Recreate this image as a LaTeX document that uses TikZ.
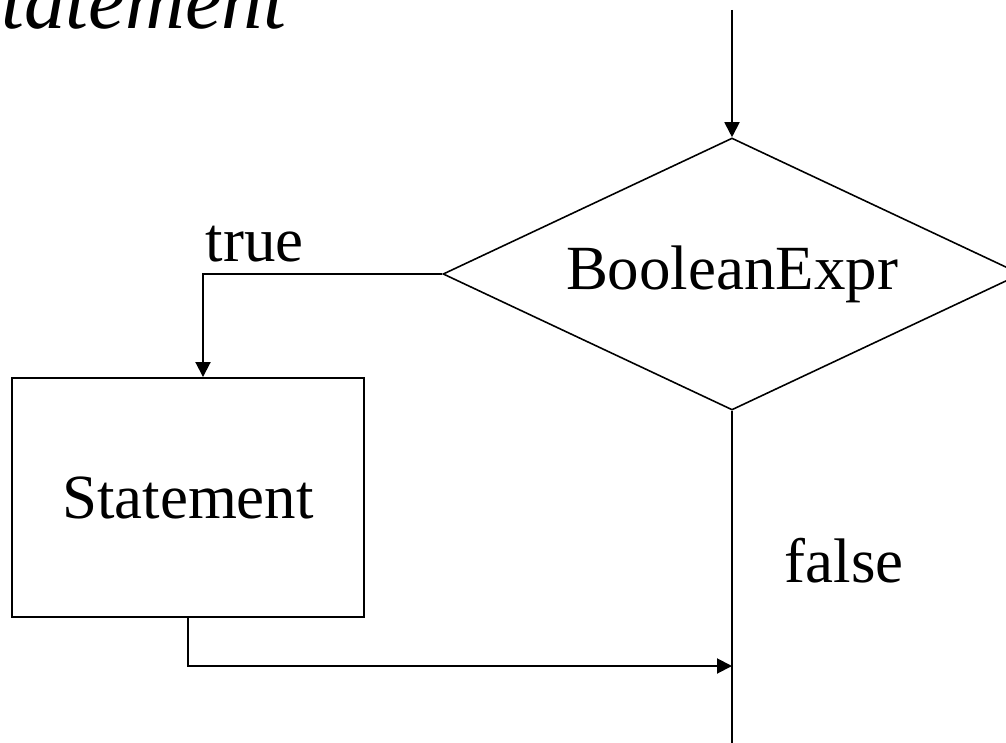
\documentclass[tikz,border=0pt]{standalone}
\usepackage{fontspec}
\setmainfont{Liberation Serif}
\usetikzlibrary{arrows.meta,shapes.geometric}
\begin{document}
\begin{tikzpicture}
[x=0.2mm, y=-0.2mm, line width=1.1pt,
 arr/.style={-{Triangle[width=3mm,length=3mm]}},
 txt/.style={font=\fontsize{35.8}{40}\selectfont, inner sep=0pt}]
\useasboundingbox (0,0) rectangle (1006,743);
\clip (0,0) rectangle (1006,743);
\node [txt, font=\fontsize{47}{50}\selectfont\itshape, anchor=base east] (title) at (287,29) {Statement};
\node [txt, draw, shape=diamond, aspect=2.125, minimum width=115.6mm, minimum height=54.4mm, line width=0.9pt] (cond) at (732,274) {BooleanExpr};
\node [txt, draw, minimum width=70.4mm, minimum height=47.8mm] (stmt) at (188,497.5) {Statement};
\node [txt, anchor=base west] (truelbl) at (205,261) {true};
\node [txt, anchor=base] (falselbl) at (844,582) {false};
\coordinate (start) at (732,10);
\coordinate (join) at (732,666);
\coordinate (end) at (732,743);
\draw [arr] (start) -- (cond.north);
\draw [arr] (cond.west) -| ([xshift=3mm]stmt.north);
\draw [arr] (stmt.south) |- (join);
\draw (cond.south) -- (end);
\end{tikzpicture}
\end{document}
